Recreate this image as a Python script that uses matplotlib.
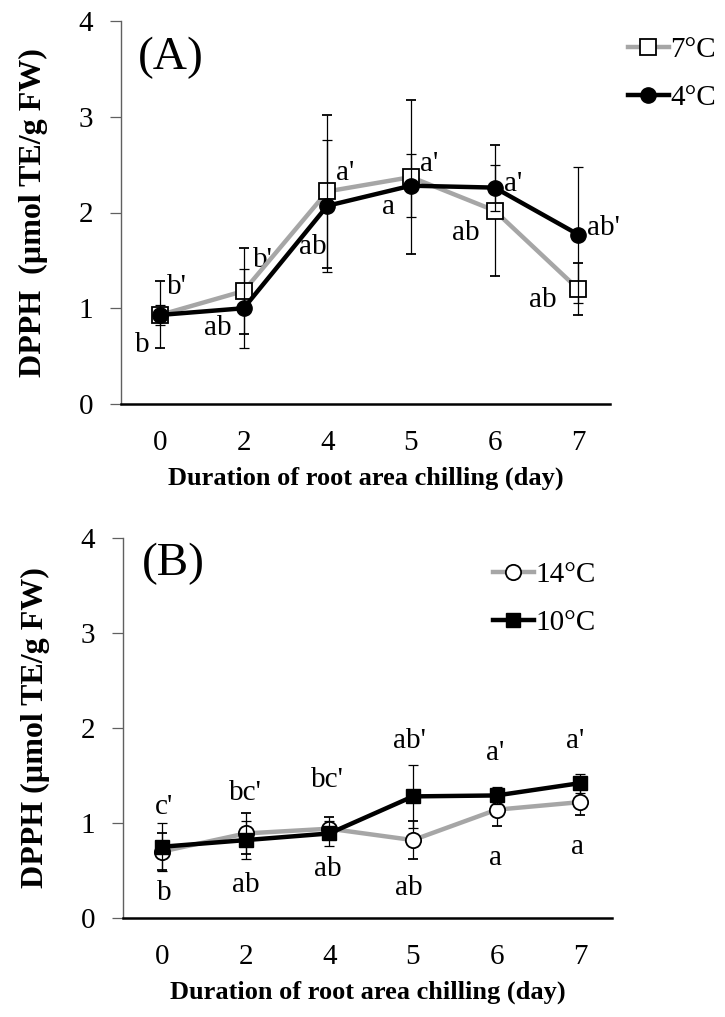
import matplotlib
matplotlib.use("Agg")
import matplotlib.pyplot as plt
import numpy as np

plt.rcParams['font.family'] = ['Liberation Serif', 'DejaVu Serif']

# data
days = ['0', '2', '4', '5', '6', '7']

a_7c = [0.93, 1.18, 2.22, 2.37, 2.02, 1.20]
a_7c_err = [0.35, 0.45, 0.80, 0.80, 0.68, 0.27]
a_4c = [0.93, 1.00, 2.07, 2.28, 2.26, 1.77]
a_4c_err = [0.10, 0.41, 0.69, 0.33, 0.24, 0.71]

b_14c = [0.70, 0.89, 0.94, 0.82, 1.14, 1.22]
b_14c_err = [0.19, 0.22, 0.12, 0.20, 0.17, 0.14]
b_10c = [0.75, 0.82, 0.89, 1.28, 1.29, 1.42]
b_10c_err = [0.25, 0.20, 0.13, 0.33, 0.09, 0.10]

# significance letters
a_letters_7c = ['b', 'ab', 'ab', 'a', 'ab', 'ab']
a_letters_4c = ["b'", "b'", "a'", "a'", "a'", "ab'"]
b_letters_14c = ['b', 'ab', 'ab', 'ab', 'a', 'a']
b_letters_10c = ["c'", "bc'", "bc'", "ab'", "a'", "a'"]

# letter offsets from their point, in pixels
a_off_7c = [(-18, -30), (-26, -37), (-15, -56), (-22, -30), (-29, -22), (-35, -11)]
a_off_4c = [(17, 28), (19, 48), (18, 33), (18, 22), (19, 4), (25, 7)]
b_off_14c = [(2, -41), (0, -52), (-2, -40), (-4, -48), (-1, -48), (-3, -45)]
b_off_10c = [(2, 40), (0, 47), (-2, 53), (-4, 55), (-1, 42), (-5, 42)]

GRAY = '#a6a6a6'
FS = 21

fig = plt.figure(figsize=(7.25, 10.17), dpi=100)
axA = fig.add_axes([121/725, 1-404/1017, (610-121)/725, 383/1017])
axB = fig.add_axes([123/725, 1-918/1017, (612-123)/725, 380/1017])

x = np.arange(len(days))


def draw(ax, y1, e1, y2, e2, m1, m2, lab1, lab2, let1, let2, off1, off2, ylabel):
    ax.errorbar(x, y1, yerr=e1, color=GRAY, lw=3.2, marker=m1, ms=11,
                mfc='white', mec='black', mew=1.3, ecolor='black',
                elinewidth=0.9, capsize=3.5, capthick=0.9, label=lab1, zorder=3)
    ax.errorbar(x, y2, yerr=e2, color='black', lw=3.2, marker=m2, ms=11 if m2 == 'o' else 10,
                mfc='black', mec='black', ecolor='black',
                elinewidth=0.9, capsize=3.5, capthick=0.9, label=lab2, zorder=4)
    for i in range(len(x)):
        ax.annotate(let1[i], (x[i], y1[i]), xytext=off1[i], textcoords='offset pixels',
                    ha='center', va='center', fontsize=FS)
        ax.annotate(let2[i], (x[i], y2[i]), xytext=off2[i], textcoords='offset pixels',
                    ha='center', va='center', fontsize=FS)
    ax.set_ylim(0, 4)
    ax.set_xlim(-0.467, 5.38)
    ax.set_yticks([0, 1, 2, 3, 4])
    ax.set_xticks(x)
    ax.set_xticklabels(days)
    ax.tick_params(axis='y', labelsize=FS, length=8, width=0.9, pad=12, color='#606060')
    ax.tick_params(axis='x', labelsize=FS, length=0, pad=19)
    for s in ['top', 'right']:
        ax.spines[s].set_visible(False)
    ax.spines['left'].set_color('#606060')
    ax.spines['left'].set_linewidth(1.0)
    ax.spines['bottom'].set_linewidth(1.8)
    ax.set_ylabel(ylabel, fontsize=23, fontweight='bold', labelpad=22)
    ax.set_xlabel('Duration of root area chilling (day)', fontsize=19, fontweight='bold', labelpad=7)
    ax.patch.set_alpha(0)


draw(axA, a_7c, a_7c_err, a_4c, a_4c_err, 's', 'o', '7\u00b0C', '4\u00b0C',
     a_letters_7c, a_letters_4c, a_off_7c, a_off_4c, 'DPPH  (\u00b5mol TE/g FW)')
draw(axB, b_14c, b_14c_err, b_10c, b_10c_err, 'o', 's', '14\u00b0C', '10\u00b0C',
     b_letters_14c, b_letters_10c, b_off_14c, b_off_10c, 'DPPH (\u00b5mol TE/g FW)')

axA.text(0.035, 0.905, '(A)', transform=axA.transAxes, fontsize=34, va='center', ha='left')
axB.text(0.039, 0.933, '(B)', transform=axB.transAxes, fontsize=34, va='center', ha='left')

for ax, bx, by in [(axA, 628/725, 1-37/1017), (axB, 493/725, 1-562/1017)]:
    h, l = ax.get_legend_handles_labels()
    h = [hh[0] for hh in h]
    ax.legend(h, l, loc='upper left', bbox_to_anchor=(bx, by), bbox_transform=fig.transFigure,
              frameon=False, fontsize=FS, handlelength=1.4, handletextpad=0.05,
              labelspacing=0.72, borderpad=0, borderaxespad=0)

fig.savefig('out.png', dpi=100)
